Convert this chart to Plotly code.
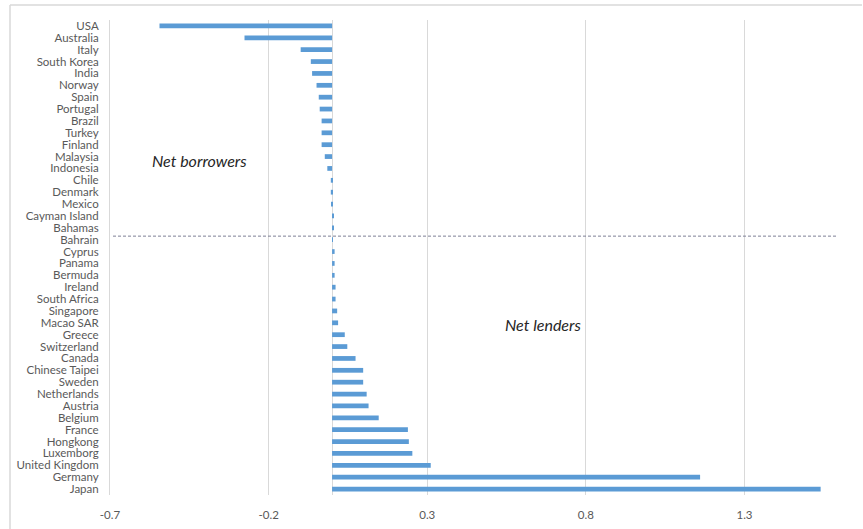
import plotly.graph_objects as go

countries = ["USA", "Australia", "Italy", "South Korea", "India", "Norway", "Spain",
             "Portugal", "Brazil", "Turkey", "Finland", "Malaysia", "Indonesia", "Chile",
             "Denmark", "Mexico", "Cayman Island", "Bahamas", "Bahrain", "Cyprus", "Panama",
             "Bermuda", "Ireland", "South Africa", "Singapore", "Macao SAR", "Greece",
             "Switzerland", "Canada", "Chinese Taipei", "Sweden", "Netherlands", "Austria",
             "Belgium", "France", "Hongkong", "Luxemborg", "United Kingdom", "Germany", "Japan"]
values = [-0.544, -0.276, -0.099, -0.067, -0.063, -0.049, -0.042,
          -0.039, -0.033, -0.033, -0.033, -0.023, -0.015, -0.004,
          -0.004, -0.001, 0.003, 0.003, 0.002, 0.008, 0.008,
          0.008, 0.011, 0.011, 0.016, 0.019, 0.040,
          0.048, 0.074, 0.098, 0.098, 0.109, 0.115,
          0.147, 0.239, 0.242, 0.253, 0.311, 1.160, 1.540]
x_ticks = [-0.7, -0.2, 0.3, 0.8, 1.3]
x_tick_labels = ["-0.7", "-0.2", "0.3", "0.8", "1.3"]

W, H = 863, 529
L, R, T, B = 110, 0, 20, 34
n = len(countries)
row_h = (H - T - B) / n

fig = go.Figure(go.Bar(
    x=values, y=countries, orientation="h",
    marker=dict(color="#5B9BD5", line=dict(width=0)),
    width=0.4,
))

label_font = dict(family="Lato, Liberation Sans, sans-serif", size=11.5, color="#595959")

fig.update_layout(
    width=W, height=H,
    margin=dict(l=L, r=R, t=T, b=B, pad=0),
    paper_bgcolor="white", plot_bgcolor="white",
    showlegend=False,
    font=label_font,
    xaxis=dict(range=[-0.7, -0.7 + (W - L - R) / 317.25],
               tickvals=x_ticks, ticktext=x_tick_labels,
               showgrid=True, gridcolor="#D9D9D9", gridwidth=1,
               zeroline=True, zerolinecolor="#D9D9D9", zerolinewidth=1,
               showline=False, ticks="", ticklabelstandoff=11,
               tickfont=label_font),
    yaxis=dict(autorange="reversed", type="category",
               tickmode="array", tickvals=countries, ticktext=countries,
               showgrid=False, zeroline=False,
               showline=True, linecolor="#D9D9D9", linewidth=1,
               ticks="", ticklabelstandoff=8, tickfont=label_font),
)

# dashed divider just above Bahrain
div_y = countries.index("Bahrain") - 0.3
fig.add_shape(type="line", xref="paper", yref="y",
              x0=(113 - L) / (W - L - R), x1=(836 - L) / (W - L - R),
              y0=div_y, y1=div_y,
              line=dict(color="#7F8096", width=1, dash="3px,2px"))

# chart frame (top and left edges)
pw, ph = W - L - R, H - T - B
fig.add_shape(type="line", xref="paper", yref="paper",
              x0=(10 - L) / pw, x1=(862 - L) / pw,
              y0=(H - B - 5) / ph, y1=(H - B - 5) / ph,
              line=dict(color="#D9D9D9", width=1.5))
fig.add_shape(type="line", xref="paper", yref="paper",
              x0=(10 - L) / pw, x1=(10 - L) / pw,
              y0=(H - B - 5) / ph, y1=-B / ph - 0.01,
              line=dict(color="#D9D9D9", width=1.5))

ann_font = dict(family="Lato, Liberation Sans, sans-serif", size=16, color="#262626")
fig.add_annotation(x=-0.418, y=(160 - T) / row_h - 0.5, xref="x", yref="y",
                   text="<i>Net borrowers</i>", showarrow=False, font=ann_font)
fig.add_annotation(x=0.665, y=(324 - T) / row_h - 0.5, xref="x", yref="y",
                   text="<i>Net lenders</i>", showarrow=False, font=ann_font)

fig.write_html("out.html", config={"displayModeBar": False},
               post_script="document.body.style.margin='0';")
